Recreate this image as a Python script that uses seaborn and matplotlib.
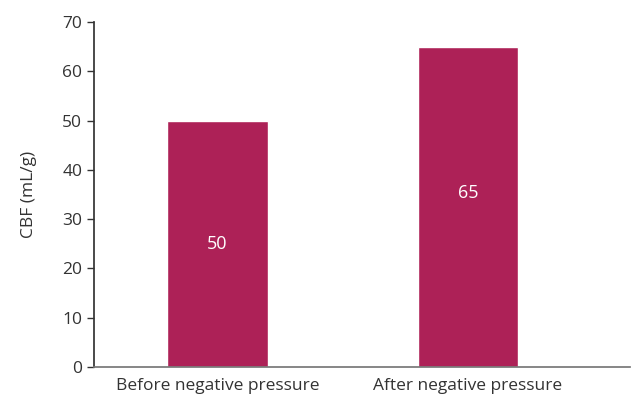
import pandas as pd
import seaborn as sns
import matplotlib.pyplot as plt

sns.set_theme(style="ticks")
plt.rcParams['font.family'] = ['Open Sans', 'DejaVu Sans']

# data
categories = ["Before negative pressure", "After negative pressure"]
cbf_values = [50, 65]
label_y = [25, 35.3]

df = pd.DataFrame({"Group": categories, "CBF": cbf_values})

fig = plt.figure(figsize=(6.4, 4), dpi=100)
ax = fig.add_axes([0.147, 0.0825, 0.837, 0.8625])

sns.barplot(data=df, x="Group", y="CBF", color="#AD2157", saturation=1,
            width=0.4, ax=ax)

for i, (v, ly) in enumerate(zip(cbf_values, label_y)):
    ax.text(i, ly, str(v), ha="center", va="center", color="white", fontsize=13)

ax.set_ylim(0, 70)
ax.set_xlim(-0.493, 1.647)
ax.set_yticks(range(0, 71, 10))
ax.set_xlabel("")
ax.set_ylabel("CBF (mL/g)", fontsize=12.5, color="#333333", labelpad=18)
ax.tick_params(axis="y", labelsize=12.5, colors="#333333", length=5, width=1)
ax.tick_params(axis="x", labelsize=12.5, colors="#333333", length=0, pad=8)
ax.spines["top"].set_visible(False)
ax.spines["right"].set_visible(False)
ax.spines["left"].set_color("#333333")
ax.spines["bottom"].set_color("#777777")

fig.savefig("out.png", dpi=100)
